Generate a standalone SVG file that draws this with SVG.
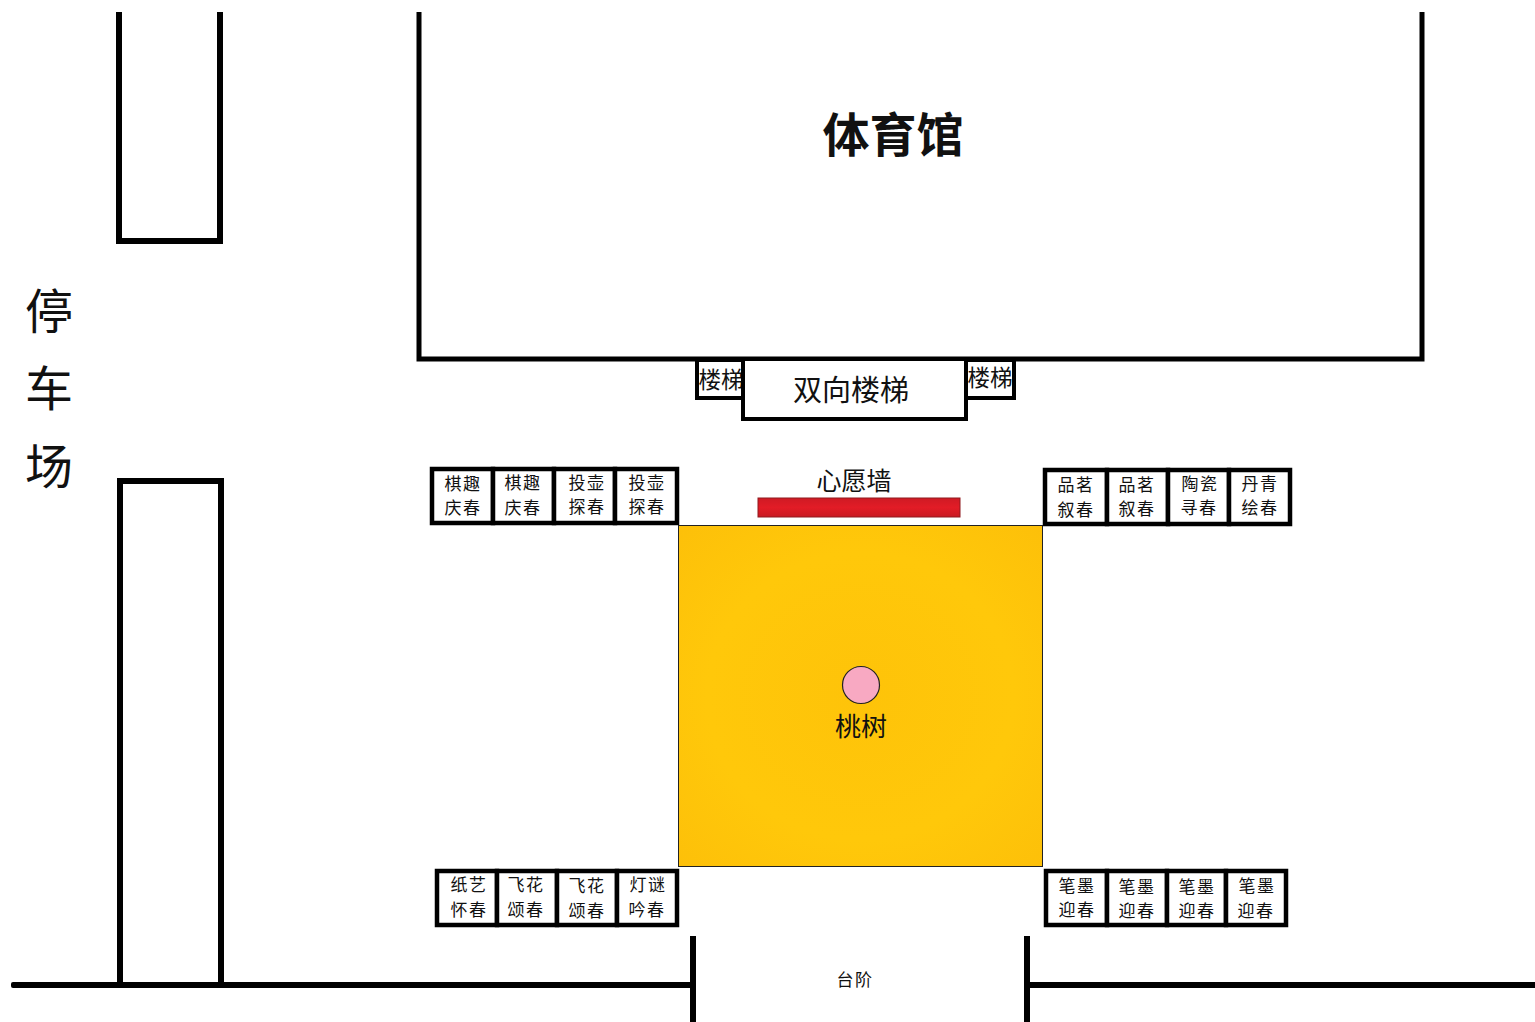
<svg xmlns="http://www.w3.org/2000/svg" width="1535" height="1022" viewBox="0 0 1535 1022">
<style>
text{font-family:"Noto Sans CJK SC","Noto Sans",sans-serif;fill:#111;text-anchor:middle}
.wall{fill:none;stroke:#000;stroke-width:6}
.gymwall{fill:none;stroke:#000;stroke-width:5}
.cell{fill:#fff;stroke:#000;stroke-width:4.500}
.stall{font-size:17px;letter-spacing:1.500px}
.stair{fill:#fff;stroke:#000;stroke-width:4}
</style>
<defs>
<radialGradient id="plaza" cx="50%" cy="50%" r="70%"><stop offset="0" stop-color="#fec309"/><stop offset="0.6" stop-color="#ffc80a"/><stop offset="1" stop-color="#fdc009"/></radialGradient>
<linearGradient id="red" x1="0" y1="0" x2="0" y2="1"><stop offset="0" stop-color="#cf1a24"/><stop offset="0.5" stop-color="#e21c26"/><stop offset="1" stop-color="#c91a22"/></linearGradient>
</defs>
<rect width="1535" height="1022" fill="#fff"/>
<g id="gym"><path class="gymwall" d="M419 12V359H1422V12"/><text x="893" y="152" font-size="47" font-weight="700">体育馆</text></g>
<g id="parking-building-top"><path class="wall" d="M119 12V241H220V12"/></g>
<g id="parking-building-bottom"><path class="wall" d="M120 985V481H221V985"/></g>
<g id="parking"><text x="49" y="329" font-size="48">停</text><text x="49" y="406" font-size="48">车</text><text x="49" y="484" font-size="48">场</text></g>
<g id="stair-left"><rect class="stair" x="697" y="360" width="47" height="38"/><text x="721" y="388" font-size="22.500">楼梯</text></g>
<g id="stair-right"><rect class="stair" x="966" y="360" width="48" height="38"/><text x="990" y="386" font-size="22.500">楼梯</text></g>
<g id="stair-main"><rect class="stair" x="743" y="359" width="223" height="60"/><text x="851" y="401" font-size="29">双向楼梯</text></g>
<g id="wish-wall"><text x="854" y="490" font-size="25">心愿墙</text><rect x="758" y="498" width="202" height="19" fill="url(#red)" stroke="#8f1a1f" stroke-width="1"/></g>
<g id="plaza-square"><rect x="678.500" y="525.500" width="364" height="341" fill="url(#plaza)" stroke="#222" stroke-width="1"/></g>
<g id="peach-tree"><circle cx="861" cy="685" r="18.500" fill="#f8a9c2" stroke="#222" stroke-width="1.200"/><text x="861" y="736" font-size="26">桃树</text></g>
<g id="stalls-top-left">
<rect class="cell" x="432" y="469" width="61" height="54"/><rect class="cell" x="493" y="469" width="61" height="54"/><rect class="cell" x="554" y="469" width="61" height="54"/><rect class="cell" x="615" y="469" width="62" height="54"/>
<g class="stall"><text x="463" y="490">棋趣</text><text x="463" y="514">庆春</text><text x="523" y="489">棋趣</text><text x="523" y="514">庆春</text><text x="587" y="489">投壶</text><text x="587" y="513">探春</text><text x="647" y="489">投壶</text><text x="647" y="513">探春</text></g>
</g>
<g id="stalls-top-right">
<rect class="cell" x="1045" y="470" width="62" height="54"/><rect class="cell" x="1107" y="470" width="61" height="54"/><rect class="cell" x="1168" y="470" width="61" height="54"/><rect class="cell" x="1229" y="470" width="61" height="54"/>
<g class="stall"><text x="1076" y="491">品茗</text><text x="1076" y="516">叙春</text><text x="1137" y="491">品茗</text><text x="1137" y="515">叙春</text><text x="1200" y="490">陶瓷</text><text x="1199" y="514">寻春</text><text x="1260" y="490">丹青</text><text x="1260" y="514">绘春</text></g>
</g>
<g id="stalls-bottom-left">
<rect class="cell" x="437" y="871" width="60" height="54"/><rect class="cell" x="497" y="871" width="60" height="54"/><rect class="cell" x="557" y="871" width="60" height="54"/><rect class="cell" x="617" y="871" width="60" height="54"/>
<g class="stall"><text x="469" y="891">纸艺</text><text x="469" y="916">怀春</text><text x="526" y="891">飞花</text><text x="526" y="916">颂春</text><text x="587" y="892">飞花</text><text x="587" y="917">颂春</text><text x="648" y="891">灯谜</text><text x="647" y="916">吟春</text></g>
</g>
<g id="stalls-bottom-right">
<rect class="cell" x="1046" y="871" width="61" height="54"/><rect class="cell" x="1107" y="871" width="60" height="54"/><rect class="cell" x="1167" y="871" width="59" height="54"/><rect class="cell" x="1226" y="871" width="60" height="54"/>
<g class="stall"><text x="1077" y="892">笔墨</text><text x="1077" y="916">迎春</text><text x="1137" y="893">笔墨</text><text x="1137" y="917">迎春</text><text x="1197" y="893">笔墨</text><text x="1197" y="917">迎春</text><text x="1257" y="892">笔墨</text><text x="1256" y="917">迎春</text></g>
</g>
<g id="steps"><text x="855" y="986" font-size="17" letter-spacing="1.500">台阶</text></g>
<g id="road" fill="#000"><rect x="11" y="982" width="682" height="6" rx="2"/><rect x="690" y="936" width="6" height="86"/><rect x="1024" y="936" width="6" height="86"/><rect x="1030" y="982" width="505" height="6"/></g>
</svg>
